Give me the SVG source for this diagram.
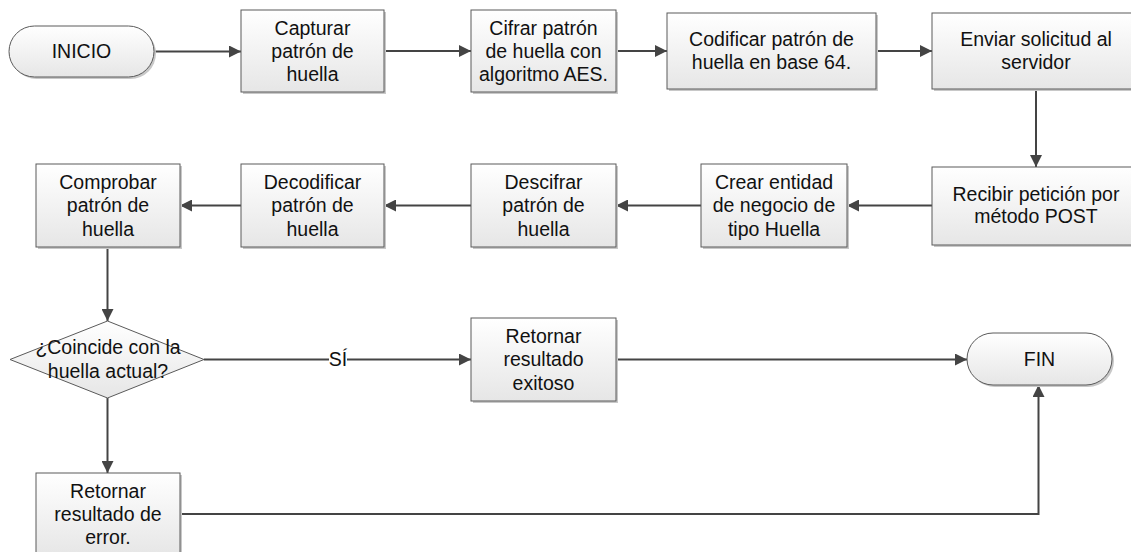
<svg xmlns="http://www.w3.org/2000/svg" width="1131" height="552" viewBox="0 0 1131 552">
  <style>
    .box { fill: url(#boxFill); stroke: #5a5a5a; stroke-width: 1; }
    .shadow { fill: #c8c8c8; }
    .lbl { font-family: "Liberation Sans", Arial, sans-serif; font-size: 19.5px; fill: #111; text-anchor: middle; }
    .conn { fill: none; stroke: #444; stroke-width: 2; }
  </style>
  <defs>
    <linearGradient id="boxFill" x1="0" y1="0" x2="0" y2="1">
      <stop offset="0" stop-color="#ffffff"/>
      <stop offset="1" stop-color="#e6e6e6"/>
    </linearGradient>
    <marker id="arrow" viewBox="0 0 12 12" refX="12" refY="6" markerWidth="12" markerHeight="12" markerUnits="userSpaceOnUse" orient="auto">
      <path d="M0,0 L12,6 L0,12 Z" fill="#444"/>
    </marker>
  </defs>

  <rect width="1131" height="552" fill="#ffffff"/>

  <!-- connectors -->
  <g id="connectors">
    <path class="conn" d="M154,51.5 H241" marker-end="url(#arrow)"/>
    <path class="conn" d="M384,51 H471" marker-end="url(#arrow)"/>
    <path class="conn" d="M616,51 H667" marker-end="url(#arrow)"/>
    <path class="conn" d="M876,51 H932" marker-end="url(#arrow)"/>
    <path class="conn" d="M1036,89 V167" marker-end="url(#arrow)"/>
    <path class="conn" d="M932,205.5 H847" marker-end="url(#arrow)"/>
    <path class="conn" d="M701,205.5 H616" marker-end="url(#arrow)"/>
    <path class="conn" d="M471,205.5 H384" marker-end="url(#arrow)"/>
    <path class="conn" d="M241,205.5 H180" marker-end="url(#arrow)"/>
    <path class="conn" d="M107.5,247 V321" marker-end="url(#arrow)"/>
    <path class="conn" d="M204,359.5 H471" marker-end="url(#arrow)"/>
    <path class="conn" d="M107.5,398 V473" marker-end="url(#arrow)"/>
    <path class="conn" d="M616,359.5 H967" marker-end="url(#arrow)"/>
    <path class="conn" d="M180,514 H1038.5 V385" marker-end="url(#arrow)"/>
    <rect x="329" y="349" width="18" height="22" fill="#ffffff"/>
    <text class="lbl" x="338" y="366.3">SÍ</text>
  </g>

  <g id="inicio">
    <rect class="shadow" x="11" y="28" width="145" height="51" rx="25.5"/>
    <rect class="box" x="9" y="26" width="145" height="51" rx="25.5"/>
    <text class="lbl" x="81.5" y="58.3">INICIO</text>
  </g>

  <g id="capturar">
    <rect class="shadow" x="243" y="12" width="143" height="82"/>
    <rect class="box" x="241" y="10" width="143" height="82"/>
    <text class="lbl" x="312.5" y="34.5">Capturar</text>
    <text class="lbl" x="312.5" y="57.8">patrón de</text>
    <text class="lbl" x="312.5" y="81.1">huella</text>
  </g>

  <g id="cifrar">
    <rect class="shadow" x="473" y="12" width="145" height="82"/>
    <rect class="box" x="471" y="10" width="145" height="82"/>
    <text class="lbl" x="543.5" y="34.5">Cifrar patrón</text>
    <text class="lbl" x="543.5" y="57.8">de huella con</text>
    <text class="lbl" x="543.5" y="81.1">algoritmo AES.</text>
  </g>

  <g id="codificar">
    <rect class="shadow" x="669" y="15" width="209" height="76"/>
    <rect class="box" x="667" y="13" width="209" height="76"/>
    <text class="lbl" x="771.5" y="46">Codificar patrón de</text>
    <text class="lbl" x="771.5" y="68.8">huella en base 64.</text>
  </g>

  <g id="enviar">
    <rect class="shadow" x="934" y="15" width="209" height="76"/>
    <rect class="box" x="932" y="13" width="209" height="76"/>
    <text class="lbl" x="1036" y="46">Enviar solicitud al</text>
    <text class="lbl" x="1036" y="68.8">servidor</text>
  </g>

  <g id="recibir">
    <rect class="shadow" x="934" y="169" width="209" height="78"/>
    <rect class="box" x="932" y="167" width="209" height="78"/>
    <text class="lbl" x="1036" y="200.5">Recibir petición por</text>
    <text class="lbl" x="1036" y="223.3">método POST</text>
  </g>

  <g id="crear">
    <rect class="shadow" x="703" y="166" width="146" height="83"/>
    <rect class="box" x="701" y="164" width="146" height="83"/>
    <text class="lbl" x="774" y="189">Crear entidad</text>
    <text class="lbl" x="774" y="212.3">de negocio de</text>
    <text class="lbl" x="774" y="235.6">tipo Huella</text>
  </g>

  <g id="descifrar">
    <rect class="shadow" x="473" y="166" width="145" height="83"/>
    <rect class="box" x="471" y="164" width="145" height="83"/>
    <text class="lbl" x="543.5" y="189">Descifrar</text>
    <text class="lbl" x="543.5" y="212.3">patrón de</text>
    <text class="lbl" x="543.5" y="235.6">huella</text>
  </g>

  <g id="decodificar">
    <rect class="shadow" x="243" y="166" width="143" height="83"/>
    <rect class="box" x="241" y="164" width="143" height="83"/>
    <text class="lbl" x="312.5" y="189">Decodificar</text>
    <text class="lbl" x="312.5" y="212.3">patrón de</text>
    <text class="lbl" x="312.5" y="235.6">huella</text>
  </g>

  <g id="comprobar">
    <rect class="shadow" x="38" y="166" width="144" height="83"/>
    <rect class="box" x="36" y="164" width="144" height="83"/>
    <text class="lbl" x="108" y="189">Comprobar</text>
    <text class="lbl" x="108" y="212.3">patrón de</text>
    <text class="lbl" x="108" y="235.6">huella</text>
  </g>

  <g id="coincide">
    <path class="box" d="M107.5,321 L204,359.5 L107.5,398 L10,359.5 Z"/>
    <text class="lbl" x="108" y="354.2">¿Coincide con la</text>
    <text class="lbl" x="108" y="377.5">huella actual?</text>
  </g>

  <g id="exitoso">
    <rect class="shadow" x="473" y="320" width="145" height="83"/>
    <rect class="box" x="471" y="318" width="145" height="83"/>
    <text class="lbl" x="543.5" y="342.9">Retornar</text>
    <text class="lbl" x="543.5" y="366.2">resultado</text>
    <text class="lbl" x="543.5" y="389.5">exitoso</text>
  </g>

  <g id="fin">
    <rect class="shadow" x="969" y="335" width="145" height="52" rx="26"/>
    <rect class="box" x="967" y="333" width="145" height="52" rx="26"/>
    <text class="lbl" x="1039.5" y="365.8">FIN</text>
  </g>

  <g id="error">
    <rect class="shadow" x="38" y="475" width="144" height="83"/>
    <rect class="box" x="36" y="473" width="144" height="83"/>
    <text class="lbl" x="108" y="497.5">Retornar</text>
    <text class="lbl" x="108" y="520.8">resultado de</text>
    <text class="lbl" x="108" y="544.1">error.</text>
  </g>
</svg>
